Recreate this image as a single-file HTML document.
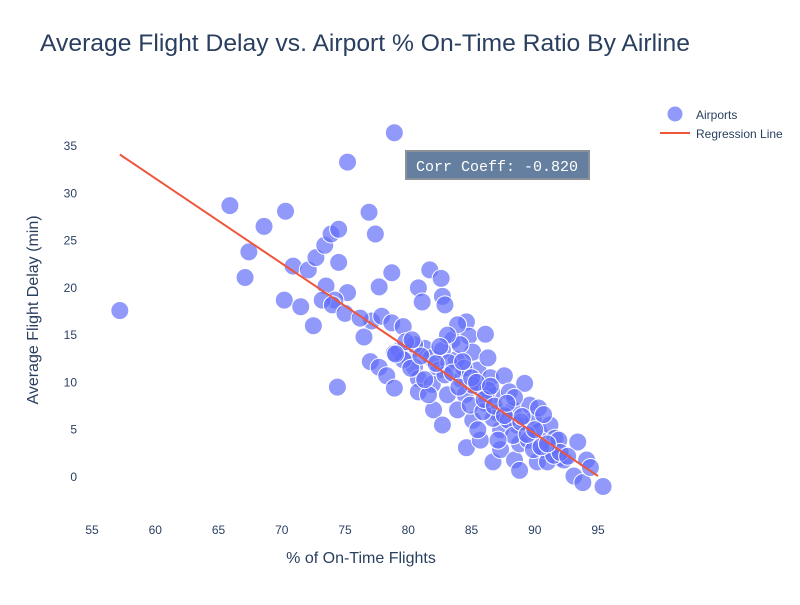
<!DOCTYPE html>
<html><head><meta charset="utf-8"><style>
body{margin:0;background:#fff;font-family:"Liberation Sans",sans-serif}
svg text{font-family:"Liberation Sans",sans-serif}
</style></head><body>
<svg id="chart" width="800" height="600" viewBox="0 0 800 600">
<rect width="800" height="600" fill="#fff"/>
<text x="40" y="51" font-size="24" fill="#2a3f5f" textLength="650" lengthAdjust="spacingAndGlyphs">Average Flight Delay vs. Airport % On-Time Ratio By Airline</text>
<g id="yticks"></g>
<g id="xticks"></g>
<text x="361" y="563" font-size="16" fill="#2a3f5f" text-anchor="middle">% of On-Time Flights</text>
<text transform="translate(38,310) rotate(-90)" font-size="16" fill="#2a3f5f" text-anchor="middle">Average Flight Delay (min)</text>
<g id="points"></g>
<line id="reg" stroke="#ef553b" stroke-width="2"/>
<g>
<rect x="406" y="151" width="183" height="28" fill="#647f9f" stroke="#8c9097" stroke-width="2"/>
<text x="497" y="171" font-size="15" fill="#fff" text-anchor="middle" style="font-family:'Liberation Mono',monospace">Corr Coeff: -0.820</text>
</g>
<g>
<g>
<circle cx="675" cy="114" r="8" fill="#636efa" fill-opacity="0.7" stroke="#fff"/>
<text x="696" y="119" font-size="12" fill="#2a3f5f">Airports</text></g>
<g>
<line x1="660" y1="133" x2="690" y2="133" stroke="#ef553b" stroke-width="2"/>
<text x="696" y="138" font-size="12" fill="#2a3f5f">Regression Line</text></g>
</g>
</svg>
<script>
const xTicks=[55,60,65,70,75,80,85,90,95];
const yTicks=[0,5,10,15,20,25,30,35];
const onTime=[57.2,65.9,67.4,67.1,68.6,70.3,70.2,70.9,71.5,72.1,72.5,72.7,73.4,73.9,74.5,74.5,74.4,75.2,76.9,77.4,78.9,75.2,73.5,74.2,73.2,74.0,75.0,77.7,78.7,81.7,82.6,82.7,82.9,80.8,81.1,76.5,77.1,77.9,78.7,79.6,77.0,77.7,78.3,78.9,79.3,80.0,80.5,80.8,80.8,81.3,81.8,82.4,81.9,82.0,82.7,83.5,83.8,84.2,84.5,84.6,84.8,85.1,85.5,85.8,86.1,84.6,85.7,86.1,86.3,86.5,86.8,87.0,86.7,87.3,87.6,88.0,88.3,88.6,88.4,88.8,89.2,89.6,89.9,90.3,90.3,90.2,90.7,91.2,91.6,91.9,91.0,92.3,93.4,93.1,93.8,94.1,94.4,95.4,87.3,85.1,83.9,83.1,81.6,79.6,78.9,80.5,82.7,84.1,83.2,84.4,85.1,86.3,86.7,87.9,88.3,89.5,89.9,85.5,87.1,76.2,79.8,83.9,83.1,81.3,82.9,84.9,85.9,88.4,90.7,91.9,91.5,88.8,80.2,81.0,82.2,83.5,84.0,85.0,86.0,86.8,87.6,88.9,89.4,90.5,92.0,79.0,80.3,82.5,84.3,85.4,86.5,87.8,89.0,90.0,91.0,92.6];
const delay=[17.6,28.7,23.8,21.1,26.5,28.1,18.7,22.3,18.0,21.9,16.0,23.2,24.5,25.7,26.2,22.7,9.5,33.3,28.0,25.7,36.4,19.5,20.2,18.7,18.7,18.2,17.3,20.1,21.6,21.9,21.0,19.1,18.2,20.0,18.5,14.8,16.5,17.0,16.3,15.9,12.2,11.6,10.7,9.4,13.4,12.7,11.6,10.4,9.0,13.6,12.6,11.3,9.8,7.1,5.5,14.5,12.4,10.3,8.7,16.4,14.9,13.2,11.3,9.4,7.8,3.1,3.9,15.1,12.6,10.5,8.6,6.8,1.6,2.9,10.7,9.0,7.1,5.5,1.8,3.5,9.9,7.6,6.0,7.3,4.8,1.6,2.9,5.5,4.1,2.0,1.6,1.8,3.7,0.1,-0.6,1.8,1.0,-1.0,5.0,6.0,7.1,8.7,8.7,12.4,13.1,14.0,13.4,14.0,12.1,11.5,9.7,9.2,6.2,6.0,4.4,3.9,2.9,5.0,3.9,16.8,14.3,16.1,15.0,10.3,10.8,7.6,6.9,8.4,6.6,3.9,2.3,0.7,11.5,12.8,12.0,11.0,9.5,10.5,8.2,7.5,6.5,5.8,4.5,3.2,2.6,13.0,14.5,13.8,12.2,10.0,9.6,7.8,6.4,5.0,3.5,2.2];
const regX=[57.2,95.0];
const regY=[34.1,0.1];
const X=v=>92+(v-55)*12.65, Y=v=>477-v*9.457;
const NS="http://www.w3.org/2000/svg";
const yt=document.getElementById('yticks'), xt=document.getElementById('xticks');
yTicks.forEach(t=>{const e=document.createElementNS(NS,'text');


e.setAttribute('x',77);e.setAttribute('y',Y(t)+4);e.setAttribute('font-size',12);e.setAttribute('fill','#2a3f5f');e.setAttribute('text-anchor','end');e.textContent=t;yt.appendChild(e);});
xTicks.forEach(t=>{const e=document.createElementNS(NS,'text');


e.setAttribute('x',X(t));e.setAttribute('y',534);e.setAttribute('font-size',12);e.setAttribute('fill','#2a3f5f');e.setAttribute('text-anchor','middle');e.textContent=t;xt.appendChild(e);});
const pg=document.getElementById('points');
onTime.forEach((v,i)=>{const c=document.createElementNS(NS,'circle');


c.setAttribute('cx',X(v));c.setAttribute('cy',Y(delay[i]));c.setAttribute('r',9);c.setAttribute('fill','#636efa');c.setAttribute('fill-opacity',0.7);c.setAttribute('stroke','#fff');c.setAttribute('stroke-width',1);pg.appendChild(c);});
const r=document.getElementById('reg');
r.setAttribute('x1',X(regX[0]));r.setAttribute('y1',Y(regY[0]));r.setAttribute('x2',X(regX[1]));r.setAttribute('y2',Y(regY[1]));
</script>
</body></html>
